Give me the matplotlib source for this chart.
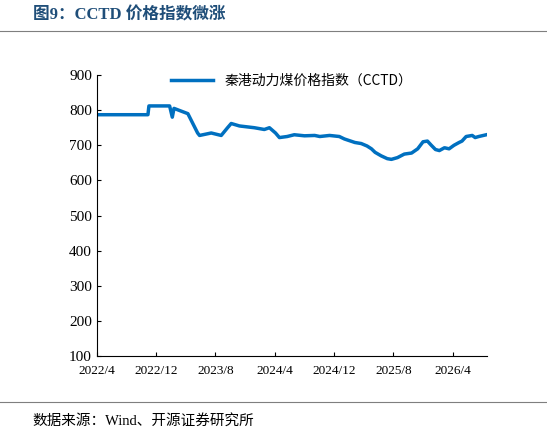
import matplotlib
matplotlib.use("Agg")
import matplotlib.pyplot as plt
import pandas as pd
from matplotlib.lines import Line2D

dates = ["2022-04-01","2022-10-28","2022-11-01","2023-01-25","2023-02-05","2023-02-12","2023-04-10","2023-05-20",
         "2023-05-28","2023-07-15","2023-08-25","2023-09-20","2023-10-05","2023-11-08","2024-01-08","2024-02-18",
         "2024-03-10","2024-04-04","2024-04-20","2024-05-22","2024-06-20","2024-08-01","2024-09-12","2024-10-03",
         "2024-11-12","2024-12-22","2025-01-12","2025-02-24","2025-03-22","2025-04-15","2025-05-03","2025-05-18",
         "2025-06-12","2025-07-07","2025-07-24","2025-08-18","2025-09-15","2025-10-15","2025-11-09","2025-12-01",
         "2025-12-19","2026-01-04","2026-01-21","2026-02-06","2026-02-27","2026-03-18","2026-04-07","2026-04-28",
         "2026-05-10","2026-05-27","2026-06-21","2026-07-03","2026-07-18","2026-08-18"]
values = [787,787,812,812,780,805,790,735,
          728,735,728,750,762,755,750,745,
          750,735,722,725,730,727,728,725,
          728,725,718,708,705,698,690,680,
          670,662,660,665,675,678,690,710,
          712,700,688,685,693,690,700,708,
          712,725,728,722,725,730]
tick_dates = ["2022-04-01","2022-12-01","2023-08-01","2024-04-01","2024-12-01","2025-08-01","2026-04-01"]
tick_labels = ["2022/4","2022/12","2023/8","2024/4","2024/12","2025/8","2026/4"]

cjk = ["Noto Sans CJK SC", "DejaVu Sans"]
serif = ["Liberation Serif", "Noto Sans CJK SC"]

fig = plt.figure(figsize=(5.47, 4.36), dpi=100)
ax = fig.add_axes([0.177, 0.183, 0.713, 0.645])
ax.plot(pd.to_datetime(dates), values, color="#0070C0", lw=2.5)
ax.set_xlim(pd.Timestamp("2022-04-01"), pd.Timestamp("2026-08-20"))
ax.set_ylim(100, 900)
ax.set_yticks(range(100, 901, 100))
ax.set_xticks(pd.to_datetime(tick_dates))
ax.set_xticklabels(tick_labels)
for lab in ax.get_yticklabels():
    lab.set_fontfamily(serif); lab.set_fontsize(11)
for lab in ax.get_xticklabels():
    lab.set_fontfamily(serif); lab.set_fontsize(9.5)
for s in ["top", "right"]:
    ax.spines[s].set_visible(False)
ax.tick_params(direction="in", length=3)
ax.tick_params(axis="x", pad=6)
ax.legend(handles=[Line2D([], [], color="#0070C0", lw=2.5)], labels=["秦港动力煤价格指数（CCTD）"],
          loc="upper center", frameon=False, prop={"family": cjk, "size": 10},
          bbox_to_anchor=(0.5, 1.05), handlelength=3)

fig.text(0.06, 0.965, "图9：CCTD 价格指数微涨", fontsize=12, fontweight="bold", color="#1F4E79",
         family=["Liberation Serif", "Noto Sans CJK SC"], va="center")
fig.add_artist(Line2D([0.0, 1.0], [0.93, 0.93], color="#7F7F7F", lw=0.8))
fig.add_artist(Line2D([0.0, 1.0], [0.078, 0.078], color="#7F7F7F", lw=0.8))
fig.text(0.06, 0.035, "数据来源：Wind、开源证券研究所", fontsize=10.5,
         family=["Liberation Serif", "Noto Sans CJK SC"], va="center")
fig.savefig("out.png", dpi=100)
